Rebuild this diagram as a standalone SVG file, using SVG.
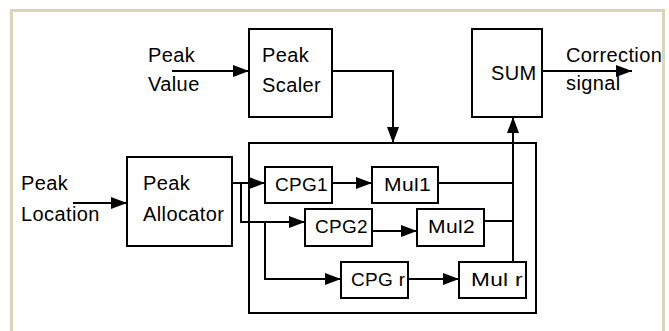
<svg xmlns="http://www.w3.org/2000/svg" width="669" height="331" viewBox="0 0 669 331">
<defs>
<style>
.box{fill:#fff;stroke:#000;stroke-width:2}
.ln{fill:none;stroke:#000;stroke-width:2}
.t{font-family:"Liberation Sans",Arial,sans-serif;font-size:20px;fill:#000;letter-spacing:0.4px}
.s{font-family:"Liberation Sans",Arial,sans-serif;font-size:19px;fill:#000;letter-spacing:0.3px}
</style>
<marker id="ah" viewBox="0 0 16 12" refX="16" refY="6" markerWidth="16" markerHeight="12" markerUnits="userSpaceOnUse" orient="auto">
<path d="M0,0 L16,6 L0,12 Z" fill="#000"/>
</marker>
</defs>
<rect width="669" height="331" fill="#fff"/>
<path d="M11.5,331 V10.5 H663.5 V331" fill="none" stroke="#d9d6b8" stroke-width="3"/>
<g id="container"><rect class="box" x="249" y="143" width="287" height="170"/></g>
<g id="peak-scaler"><rect class="box" x="249" y="29" width="83" height="88"/><text class="t" x="262" y="62">Peak</text><text class="t" x="262" y="92">Scaler</text></g>
<g id="sum"><rect class="box" x="472" y="29" width="70" height="88"/><text class="t" x="491" y="80">SUM</text></g>
<g id="peak-allocator"><rect class="box" x="127" y="157" width="105" height="89"/><text class="t" x="143" y="190">Peak</text><text class="t" x="143" y="221">Allocator</text></g>
<g id="cpg1"><rect class="box" x="265" y="167" width="67" height="36"/><text class="s" x="275" y="191">CPG1</text></g>
<g id="mul1"><rect class="box" x="372" y="167" width="66" height="36"/><text class="s" x="384" y="191" textLength="47" lengthAdjust="spacingAndGlyphs">Mul1</text></g>
<g id="cpg2"><rect class="box" x="305" y="209" width="67" height="37"/><text class="s" x="315" y="233">CPG2</text></g>
<g id="mul2"><rect class="box" x="417" y="209" width="67" height="37"/><text class="s" x="428" y="233" textLength="47" lengthAdjust="spacingAndGlyphs">Mul2</text></g>
<g id="cpgr"><rect class="box" x="341" y="262" width="67" height="36"/><text class="s" x="351" y="286">CPG r</text></g>
<g id="mulr"><rect class="box" x="459" y="262" width="67" height="36"/><text class="s" x="471" y="286" textLength="52" lengthAdjust="spacingAndGlyphs">Mul r</text></g>
<g id="labels">
<text class="t" x="148" y="62">Peak</text><text class="t" x="148" y="91">Value</text>
<text class="t" x="21" y="190">Peak</text><text class="t" x="21" y="221">Location</text>
<text class="t" x="566" y="62">Correction</text><text class="t" x="566" y="90">signal</text>
</g>
<g id="connectors">
<path class="ln" d="M172,71 H249" marker-end="url(#ah)"/>
<path class="ln" d="M332,71 H393 V143" marker-end="url(#ah)"/>
<path class="ln" d="M542,71 H632" marker-end="url(#ah)"/>
<path class="ln" d="M73,203 H127" marker-end="url(#ah)"/>
<path class="ln" d="M232,183 H265" marker-end="url(#ah)"/>
<path class="ln" d="M241,183 V222 H305" marker-end="url(#ah)"/>
<path class="ln" d="M265,222 V279 H341" marker-end="url(#ah)"/>
<path class="ln" d="M332,183 H372" marker-end="url(#ah)"/>
<path class="ln" d="M372,231 H417" marker-end="url(#ah)"/>
<path class="ln" d="M408,279 H459" marker-end="url(#ah)"/>
<path class="ln" d="M438,183 H513"/>
<path class="ln" d="M484,221 H513"/>
<path class="ln" d="M513,262 V117" marker-end="url(#ah)"/>
</g>
</svg>
